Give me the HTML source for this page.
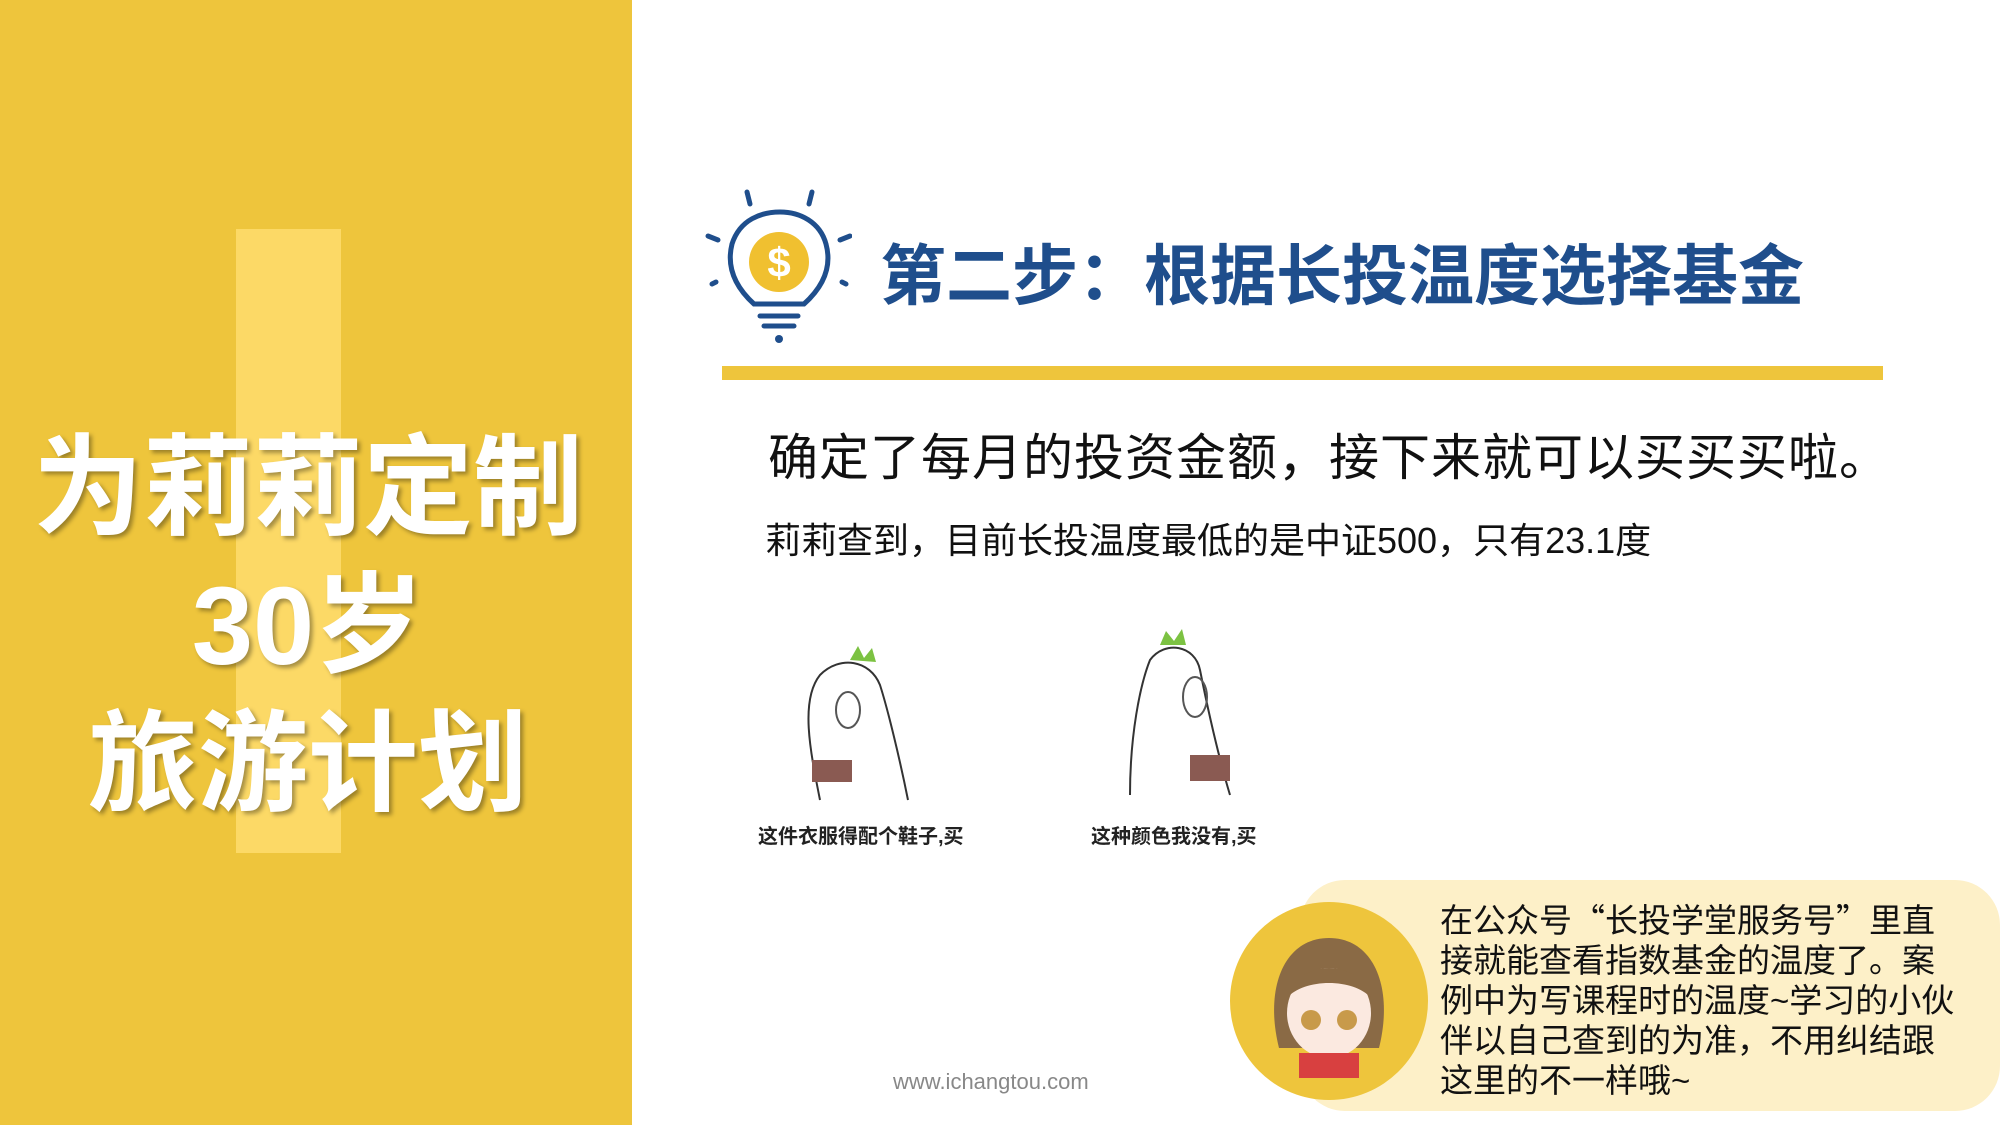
<!DOCTYPE html>
<html><head><meta charset="utf-8"><style>
body{margin:0;width:2000px;height:1125px;position:relative;overflow:hidden;background:#fff;font-family:"Liberation Sans","Noto Sans CJK SC",sans-serif;}
.a{position:absolute;white-space:nowrap;}
.cj{font-family:"Noto Sans CJK SC",sans-serif;}
</style></head><body>
<div class="a" style="left:0;top:0;width:632px;height:1125px;background:#eec53c"></div>
<div class="a" style="left:236px;top:229px;width:105px;height:624px;background:#fcd966"></div>
<div class="a" style="left:0;width:616px;top:420px;text-align:center;color:#fff;font-weight:bold;font-size:110px;line-height:138px;text-shadow:3px 3px 4px rgba(0,0,0,.35)">为莉莉定制<br>30岁<br>旅游计划</div>

<svg class="a" style="left:702px;top:184px" width="150" height="170" viewBox="0 0 150 170">
<g stroke="#1f4e8c" stroke-width="5" stroke-linecap="round" fill="none">
<line x1="45" y1="8" x2="48" y2="20"/><line x1="110" y1="8" x2="107" y2="20"/>
<line x1="6" y1="52" x2="16" y2="56"/><line x1="148" y1="52" x2="138" y2="56"/>
<line x1="10" y1="100" x2="14" y2="98"/><line x1="144" y1="100" x2="140" y2="98"/>
<path d="M52 120 C30 100 25 80 30 60 C38 35 60 28 78 28 C98 28 118 38 124 60 C130 82 122 102 102 120 Z"/>
<line x1="58" y1="132" x2="96" y2="132"/><line x1="62" y1="142" x2="92" y2="142"/>
</g>
<circle cx="77" cy="78" r="30" fill="#f0c030"/>
<text x="77" y="93" text-anchor="middle" font-size="42" font-weight="bold" fill="#fff" font-family="Liberation Sans">$</text>
<circle cx="77" cy="155" r="4" fill="#1f4e8c"/>
</svg>
<div class="a" style="left:880px;top:238px;font-size:66px;font-weight:bold;color:#1f4e8c;line-height:76px">第二步：根据长投温度选择基金</div>
<div class="a" style="left:722px;top:366px;width:1161px;height:14px;background:#eec53c"></div>
<div class="a" style="left:768px;top:428px;font-size:50px;line-height:60px;color:#111;letter-spacing:1px">确定了每月的投资金额，接下来就可以买买买啦。</div>
<div class="a" style="left:765px;top:518px;font-size:36px;line-height:46px;color:#111">莉莉查到，目前长投温度最低的是中证500，只有23.1度</div>

<svg class="a" style="left:790px;top:640px" width="150" height="170" viewBox="0 0 150 170">
<path d="M60 20 L68 6 L74 18 L82 8 L86 22 Z" fill="#7cc242"/>
<path d="M30 160 C20 110 10 60 30 35 C50 15 80 20 90 45 C98 70 110 120 118 160" fill="#fff" stroke="#333" stroke-width="2"/>
<ellipse cx="58" cy="70" rx="12" ry="18" fill="none" stroke="#555" stroke-width="2"/>
<rect x="22" y="120" width="40" height="22" fill="#8a5a52"/>
</svg>
<svg class="a" style="left:1120px;top:625px" width="150" height="180" viewBox="0 0 150 180">
<path d="M40 20 L46 6 L54 16 L62 4 L66 20 Z" fill="#7cc242"/>
<path d="M10 170 C10 110 20 60 30 35 C45 15 75 20 80 45 C85 70 95 120 110 170" fill="#fff" stroke="#333" stroke-width="2"/>
<ellipse cx="75" cy="72" rx="12" ry="20" fill="none" stroke="#555" stroke-width="2"/>
<rect x="70" y="130" width="40" height="26" fill="#8a5a52"/>
</svg>
<div class="a" style="left:758px;top:820px;font-size:20px;font-weight:bold;color:#222">这件衣服得配个鞋子,买</div>
<div class="a" style="left:1091px;top:820px;font-size:20px;font-weight:bold;color:#222">这种颜色我没有,买</div>
<div class="a" style="left:893px;top:1069px;font-size:22px;color:#888">www.ichangtou.com</div>

<div class="a" style="left:1300px;top:880px;width:700px;height:231px;background:#fdf0c8;border-radius:45px"></div>
<div class="a" style="left:1230px;top:902px;width:198px;height:198px;border-radius:50%;background:#eec53c"></div>
<svg class="a" style="left:1259px;top:928px" width="140" height="150" viewBox="0 0 140 150">
<path d="M20 120 C5 60 25 10 70 10 C115 10 135 60 120 120 Z" fill="#8a6a45"/>
<ellipse cx="70" cy="85" rx="42" ry="45" fill="#fbe9e0"/>
<path d="M28 70 C40 30 100 30 112 70 C95 50 45 50 28 70 Z" fill="#8a6a45"/>
<circle cx="52" cy="92" r="10" fill="#c89a4a"/><circle cx="88" cy="92" r="10" fill="#c89a4a"/>
<rect x="40" y="125" width="60" height="25" fill="#d84040"/>
</svg>
<div class="a" style="left:1440px;top:898px;font-size:33px;line-height:40px;color:#111">在公众号<span class="cj">“</span>长投学堂服务号<span class="cj">”</span>里直<br>接就能查看指数基金的温度了。案<br>例中为写课程时的温度~学习的小伙<br>伴以自己查到的为准，不用纠结跟<br>这里的不一样哦~</div>
</body></html>
